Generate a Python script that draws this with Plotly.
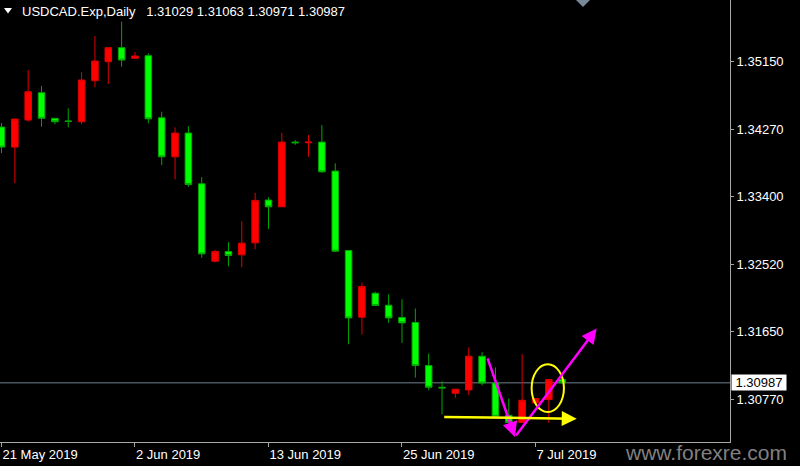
import plotly.graph_objects as go

# ---- data ----
dates = ["2019-05-21", "2019-05-22", "2019-05-23", "2019-05-24", "2019-05-26", "2019-05-27",
         "2019-05-28", "2019-05-29", "2019-05-30", "2019-05-31", "2019-06-02", "2019-06-03",
         "2019-06-04", "2019-06-05", "2019-06-06", "2019-06-07", "2019-06-09", "2019-06-10",
         "2019-06-11", "2019-06-12", "2019-06-13", "2019-06-14", "2019-06-16", "2019-06-17",
         "2019-06-18", "2019-06-19", "2019-06-20", "2019-06-21", "2019-06-23", "2019-06-24",
         "2019-06-25", "2019-06-26", "2019-06-27", "2019-06-28", "2019-06-30", "2019-07-01",
         "2019-07-02", "2019-07-03", "2019-07-04", "2019-07-05", "2019-07-07", "2019-07-08",
         "2019-07-09"]

opens = [1.34303, 1.34043, 1.34394, 1.34748, 1.34416, 1.34381, 1.34372, 1.34904, 1.35150, 1.35332,
         1.35194, 1.35228, 1.34423, 1.33917, 1.34225, 1.33567, 1.32564, 1.32690, 1.32646, 1.32802,
         1.33356, 1.33269, 1.34108, 1.34099, 1.34108, 1.33732, 1.32703, 1.31838, 1.32149, 1.31993,
         1.31834, 1.31769, 1.31211, 1.30930, 1.30852, 1.30895, 1.31332, 1.30985, 1.30566, 1.30472,
         1.30726, 1.30770, 1.31029]
highs = [1.34355, 1.34407, 1.35042, 1.34835, 1.34420, 1.34545, 1.35013, 1.35483, 1.35332, 1.35669,
         1.35276, 1.35259, 1.34501, 1.34299, 1.34316, 1.33654, 1.32711, 1.32811, 1.33083, 1.33450,
         1.33391, 1.34229, 1.34134, 1.34199, 1.34329, 1.33832, 1.32703, 1.32288, 1.32166, 1.32136,
         1.32071, 1.31951, 1.31367, 1.31007, 1.30904, 1.31445, 1.31384, 1.31185, 1.30783, 1.31358,
         1.30787, 1.31033, 1.31063]
lows = [1.33965, 1.33576, 1.34372, 1.34307, 1.34338, 1.34299, 1.34342, 1.34818, 1.34861, 1.35085,
        1.35194, 1.34351, 1.33810, 1.33624, 1.33528, 1.32607, 1.32547, 1.32499, 1.32486, 1.32720,
        1.32983, 1.33269, 1.34073, 1.33917, 1.33710, 1.32685, 1.31488, 1.31613, 1.31990, 1.31764,
        1.31504, 1.31055, 1.30891, 1.30579, 1.30791, 1.30830, 1.30952, 1.30544, 1.30472, 1.30472,
        1.30726, 1.30466, 1.30971]
closes = [1.34043, 1.34407, 1.34761, 1.34416, 1.34372, 1.34377, 1.34913, 1.35159, 1.35332, 1.35172,
          1.35224, 1.34410, 1.33917, 1.34225, 1.33559, 1.32659, 1.32690, 1.32638, 1.32798, 1.33352,
          1.33269, 1.34108, 1.34099, 1.34108, 1.33723, 1.32694, 1.31829, 1.32236, 1.31990, 1.31829,
          1.31764, 1.31211, 1.30930, 1.30921, 1.30904, 1.31332, 1.30985, 1.30553, 1.30472, 1.30761,
          1.30783, 1.31029, 1.30987]

date_tick_idx = [0, 10, 20, 30, 40]
date_tick_text = ["21 May 2019", "2 Jun 2019", "13 Jun 2019", "25 Jun 2019", "7 Jul 2019"]
price_ticks = [1.35150, 1.34270, 1.33400, 1.32520, 1.31650, 1.30770]
current_price = 1.30987
header = "USDCAD.Exp,Daily\u00a0\u00a0 1.31029 1.31063 1.30971 1.30987"

# analysis drawings (bar index, price)
magenta_down = [(36.37, 1.31323), (38.46, 1.30285)]
magenta_up = [(38.46, 1.30285), (44.58, 1.31691)]
yellow_arrow = [(33.05, 1.30545), (43.09, 1.30521)]
yellow_ellipse = [(39.71, 1.30609), (42.13, 1.31228)]

x_idx = list(range(len(dates)))

fig = go.Figure()
fig.add_trace(go.Candlestick(
    x=x_idx, open=opens, high=highs, low=lows, close=closes,
    text=dates, hoverinfo="text+y",
    increasing=dict(line=dict(color="#e00000", width=1), fillcolor="#ff0000"),
    decreasing=dict(line=dict(color="#00a800", width=1), fillcolor="#00ff00"),
    showlegend=False,
))

font_family = "Liberation Sans, Arial, sans-serif"
axis_col = "#a8a8a8"

fig.update_layout(
    width=800, height=466,
    margin=dict(l=0, r=70, t=0, b=24, autoexpand=False),
    paper_bgcolor="#000000", plot_bgcolor="#000000",
    font=dict(family=font_family, size=13, color="#ffffff"),
    showlegend=False,
    xaxis=dict(
        type="linear", range=[-0.112, 54.57], rangeslider=dict(visible=False),
        showgrid=False, zeroline=False, showline=True, linecolor=axis_col, linewidth=1, mirror=True,
        tickmode="array", tickvals=date_tick_idx, ticktext=date_tick_text,
        ticks="outside", ticklen=4, tickcolor=axis_col,
        ticklabelposition="outside right",
        tickfont=dict(family=font_family, size=13, color="#ffffff"),
    ),
    yaxis=dict(
        side="right", range=[1.30220, 1.35950],
        showgrid=False, zeroline=False, showline=True, linecolor=axis_col, linewidth=1, mirror=True,
        tickmode="array", tickvals=price_ticks, ticktext=[f"{v:.5f}" for v in price_ticks],
        ticks="outside", ticklen=3, tickcolor=axis_col,
        tickfont=dict(family=font_family, size=13, color="#ffffff"),
    ),
)

shapes = []
# current price line
shapes.append(dict(type="line", xref="paper", x0=0, x1=1, yref="y", y0=current_price, y1=current_price,
                   line=dict(color="#708090", width=1), layer="below"))
# yellow ellipse
shapes.append(dict(type="circle", xref="x", yref="y",
                   x0=yellow_ellipse[0][0], x1=yellow_ellipse[1][0],
                   y0=yellow_ellipse[0][1], y1=yellow_ellipse[1][1],
                   line=dict(color="#ffff00", width=2)))
# shift marker triangle at top
W, H = 730.0, 442.0
shapes.append(dict(type="path", xref="paper", yref="paper",
                   path=f"M {576/W} 1 L {590/W} 1 L {583/W} {1-7/H} Z",
                   fillcolor="#778899", line=dict(width=0)))
# header triangle
shapes.append(dict(type="path", xref="paper", yref="paper",
                   path=f"M {4/W} {1-8/H} L {12/W} {1-8/H} L {8/W} {1-13.5/H} Z",
                   fillcolor="#ffffff", line=dict(width=0)))
fig.update_layout(shapes=shapes)

ann = []
for seg, col, w in [(magenta_down, "#ff00ff", 2.5), (magenta_up, "#ff00ff", 2.5), (yellow_arrow, "#ffff00", 2.5)]:
    (x0, y0), (x1, y1) = seg
    ann.append(dict(x=x1, y=y1, ax=x0, ay=y0, xref="x", yref="y", axref="x", ayref="y",
                    text="", showarrow=True, arrowhead=2, arrowsize=1.2, arrowwidth=w, arrowcolor=col))
ann.append(dict(x=20 / W, y=1 - 11.5 / H, xref="paper", yref="paper", xanchor="left", yanchor="middle",
                text=header, showarrow=False, font=dict(family=font_family, size=13, color="#ffffff")))
ann.append(dict(x=1, y=current_price, xref="paper", yref="y", xanchor="left", yanchor="middle", xshift=1,
                text=f"{current_price:.5f}", showarrow=False, bgcolor="#ffffff", borderpad=0,
                width=54, height=15, align="center",
                font=dict(family=font_family, size=13, color="#000000")))
ann.append(dict(x=789 / W, y=1 - 453 / H, xref="paper", yref="paper", xanchor="right", yanchor="middle",
                text="www.forexre.com", showarrow=False,
                font=dict(family=font_family, size=21, color="#808080")))
fig.update_layout(annotations=ann)

fig.write_html("out.html", config={"displayModeBar": False},
               post_script="document.body.style.margin='0px';document.body.style.overflow='hidden';")
